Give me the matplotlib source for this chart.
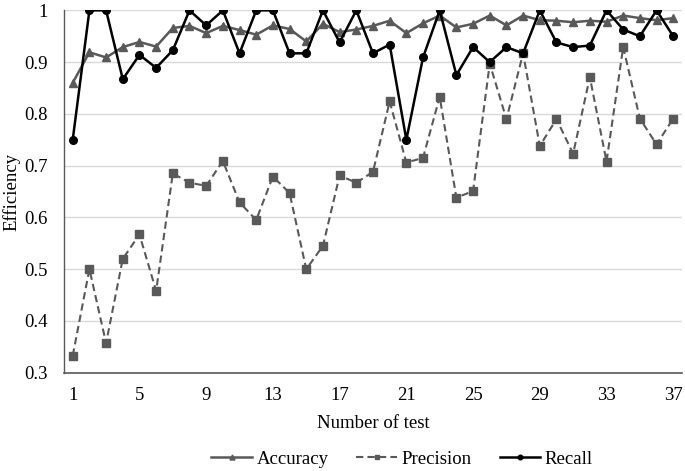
import matplotlib
matplotlib.use("Agg")
import matplotlib.pyplot as plt

tests = list(range(1, 38))
accuracy = [0.860, 0.919, 0.909, 0.929, 0.939, 0.930, 0.966, 0.970, 0.956, 0.970,
            0.962, 0.953, 0.971, 0.964, 0.940, 0.974, 0.958, 0.963, 0.970, 0.980,
            0.956, 0.975, 0.990, 0.967, 0.974, 0.990, 0.971, 0.990, 0.981, 0.980,
            0.977, 0.980, 0.978, 0.990, 0.985, 0.981, 0.985]
precision = [0.333, 0.500, 0.357, 0.520, 0.567, 0.458, 0.685, 0.667, 0.661, 0.709,
             0.629, 0.595, 0.679, 0.647, 0.500, 0.545, 0.681, 0.667, 0.688, 0.824,
             0.706, 0.715, 0.833, 0.638, 0.651, 0.897, 0.790, 0.917, 0.738, 0.790,
             0.723, 0.871, 0.708, 0.929, 0.791, 0.741, 0.791]
recall = [0.750, 1.000, 1.000, 0.867, 0.914, 0.889, 0.923, 1.000, 0.971, 1.000,
          0.917, 1.000, 1.000, 0.917, 0.917, 1.000, 0.938, 1.000, 0.917, 0.934,
          0.750, 0.909, 1.000, 0.875, 0.929, 0.900, 0.929, 0.917, 1.000, 0.938,
          0.929, 0.932, 1.000, 0.963, 0.950, 1.000, 0.950]
xticks = [1, 5, 9, 13, 17, 21, 25, 29, 33, 37]
yticks = [0.3, 0.4, 0.5, 0.6, 0.7, 0.8, 0.9, 1.0]
ytick_labels = ["0.3", "0.4", "0.5", "0.6", "0.7", "0.8", "0.9", "1"]

plt.rcParams['font.family'] = ['Liberation Serif', 'DejaVu Serif']
FS = 13.5

fig = plt.figure(figsize=(6.85, 4.71), dpi=100)
ax = fig.add_axes([0.094, 0.2087, 0.901, 0.7693])

ax.plot(tests, accuracy, color='#595959', lw=1.8, marker='^', ms=6, label='Accuracy', zorder=3)
ax.plot(tests, precision, color='#595959', lw=1.5, ls=(0, (3.5, 2)), marker='s', ms=5.5, label='Precision', zorder=3)
ax.plot(tests, recall, color='black', lw=1.8, marker='o', ms=5.5, label='Recall', zorder=4)

ax.set_xlim(0.5, 37.5)
ax.set_ylim(0.3, 1.0)
ax.set_xticks(xticks)
ax.set_yticks(yticks)
ax.set_yticklabels(ytick_labels)
ax.tick_params(axis='both', length=0, labelsize=FS, colors='black')
ax.tick_params(axis='x', pad=10)
ax.tick_params(axis='y', pad=12)
ax.grid(axis='y', color='#d9d9d9', lw=1)
ax.set_axisbelow(True)
for s in ['top', 'right']:
    ax.spines[s].set_visible(False)
ax.spines['left'].set_color('#595959')
ax.spines['bottom'].set_color('#595959')
ax.spines['left'].set_linewidth(1)
ax.spines['bottom'].set_linewidth(1.2)

ax.set_xlabel('Number of test', fontsize=FS, labelpad=8)
ax.set_ylabel('Efficiency', fontsize=FS, labelpad=3)

fig.legend(*ax.get_legend_handles_labels(), loc='center', bbox_to_anchor=(0.587, 0.025),
           ncol=3, frameon=False, fontsize=FS, handlelength=2.15, columnspacing=1.5,
           handletextpad=0.25, markerscale=0.6, borderpad=0)

fig.savefig('out.png', dpi=100)
